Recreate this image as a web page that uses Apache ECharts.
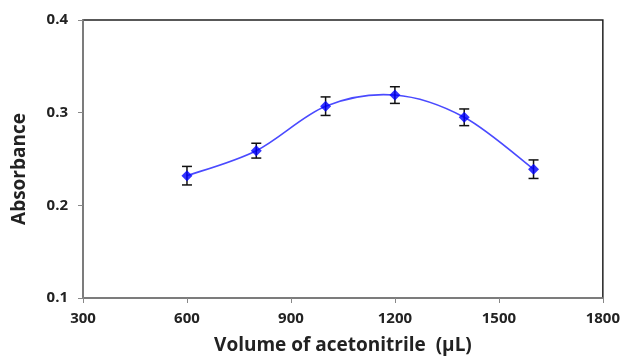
<!DOCTYPE html>
<html>
<head>
<meta charset="utf-8">
<script src="https://cdn.jsdelivr.net/npm/echarts@6/dist/echarts.min.js"></script>
<style>
html,body{margin:0;padding:0;background:#fff;}
#chart{width:623px;height:363px;}
</style>
</head>
<body>
<div id="chart"></div>
<script>
// Data
var volumes = [600, 800, 1000, 1200, 1400, 1600];
var absorbance = [0.232, 0.259, 0.307, 0.319, 0.295, 0.239];
var errors = [0.010, 0.008, 0.010, 0.009, 0.009, 0.010];
var xTitle = 'Volume of acetonitrile  (\u03bcL)';
var yTitle = 'Absorbance';

var pointData = volumes.map(function (v, i) { return [v, absorbance[i]]; });
var errData = volumes.map(function (v, i) { return [v, absorbance[i] - errors[i], absorbance[i] + errors[i]]; });

var font = 'Open Sans';
var chart = echarts.init(document.getElementById('chart'), null, {renderer: 'canvas'});
chart.setOption({
  animation: false,
  backgroundColor: '#ffffff',
  grid: {left: 83, right: 20, top: 20, bottom: 65, show: true, borderColor: '#222', borderWidth: 1.5, backgroundColor: 'transparent'},
  xAxis: {
    type: 'value', min: 300, max: 1800, interval: 300,
    name: xTitle, nameLocation: 'middle', nameGap: 38,
    nameTextStyle: {fontFamily: font, fontWeight: 'bold', fontSize: 19, color: '#222'},
    axisLine: {show: true, lineStyle: {color: '#888', width: 1.5}},
    axisTick: {show: true, length: 5, lineStyle: {color: '#888'}},
    axisLabel: {fontFamily: font, fontWeight: 'bold', fontSize: 15, color: '#222', margin: 13,
      formatter: function (v) { return String(v); }},
    splitLine: {show: false}
  },
  yAxis: {
    type: 'value', min: 0.1, max: 0.4, interval: 0.1,
    name: yTitle, nameLocation: 'middle', nameGap: 54,
    nameTextStyle: {fontFamily: font, fontWeight: 'bold', fontSize: 19, color: '#222', padding: [0, 20, 0, 0]},
    axisLine: {show: true, lineStyle: {color: '#888', width: 1.5}},
    axisTick: {show: true, length: 5, lineStyle: {color: '#888'}},
    axisLabel: {fontFamily: font, fontWeight: 'bold', fontSize: 15, color: '#222', margin: 15,
      formatter: function (v) { return v.toFixed(1); }},
    splitLine: {show: false}
  },
  series: [
    {
      // smoothed curve (Excel-style Bezier), one segment per data point
      type: 'custom',
      data: pointData,
      z: 2,
      renderItem: function (params, api) {
        var i = params.dataIndex;
        var n = pointData.length;
        if (i >= n - 1) return null;
        function P(k) {
          k = Math.max(0, Math.min(n - 1, k));
          return api.coord(pointData[k]);
        }
        var p0 = P(i - 1), p1 = P(i), p2 = P(i + 1), p3 = P(i + 2);
        var t = 1 / 6;
        return {
          type: 'bezierCurve',
          shape: {
            x1: p1[0], y1: p1[1], x2: p2[0], y2: p2[1],
            cpx1: p1[0] + (p2[0] - p0[0]) * t, cpy1: p1[1] + (p2[1] - p0[1]) * t,
            cpx2: p2[0] - (p3[0] - p1[0]) * t, cpy2: p2[1] - (p3[1] - p1[1]) * t
          },
          style: {stroke: '#4a4aff', lineWidth: 1.6, fill: null}
        };
      }
    },
    {
      type: 'custom',
      data: errData,
      z: 3,
      renderItem: function (params, api) {
        var x = api.value(0);
        var lo = api.coord([x, api.value(1)]);
        var hi = api.coord([x, api.value(2)]);
        var w = 5;
        var st = {stroke: '#111', lineWidth: 1.5};
        return {
          type: 'group',
          children: [
            {type: 'line', shape: {x1: lo[0], y1: lo[1], x2: hi[0], y2: hi[1]}, style: st},
            {type: 'line', shape: {x1: lo[0] - w, y1: lo[1], x2: lo[0] + w, y2: lo[1]}, style: st},
            {type: 'line', shape: {x1: hi[0] - w, y1: hi[1], x2: hi[0] + w, y2: hi[1]}, style: st}
          ]
        };
      }
    },
    {
      type: 'scatter',
      data: pointData,
      z: 4,
      symbol: 'diamond',
      symbolSize: 11,
      itemStyle: {color: '#0000ff'}
    }
  ]
});
</script>
</body>
</html>
